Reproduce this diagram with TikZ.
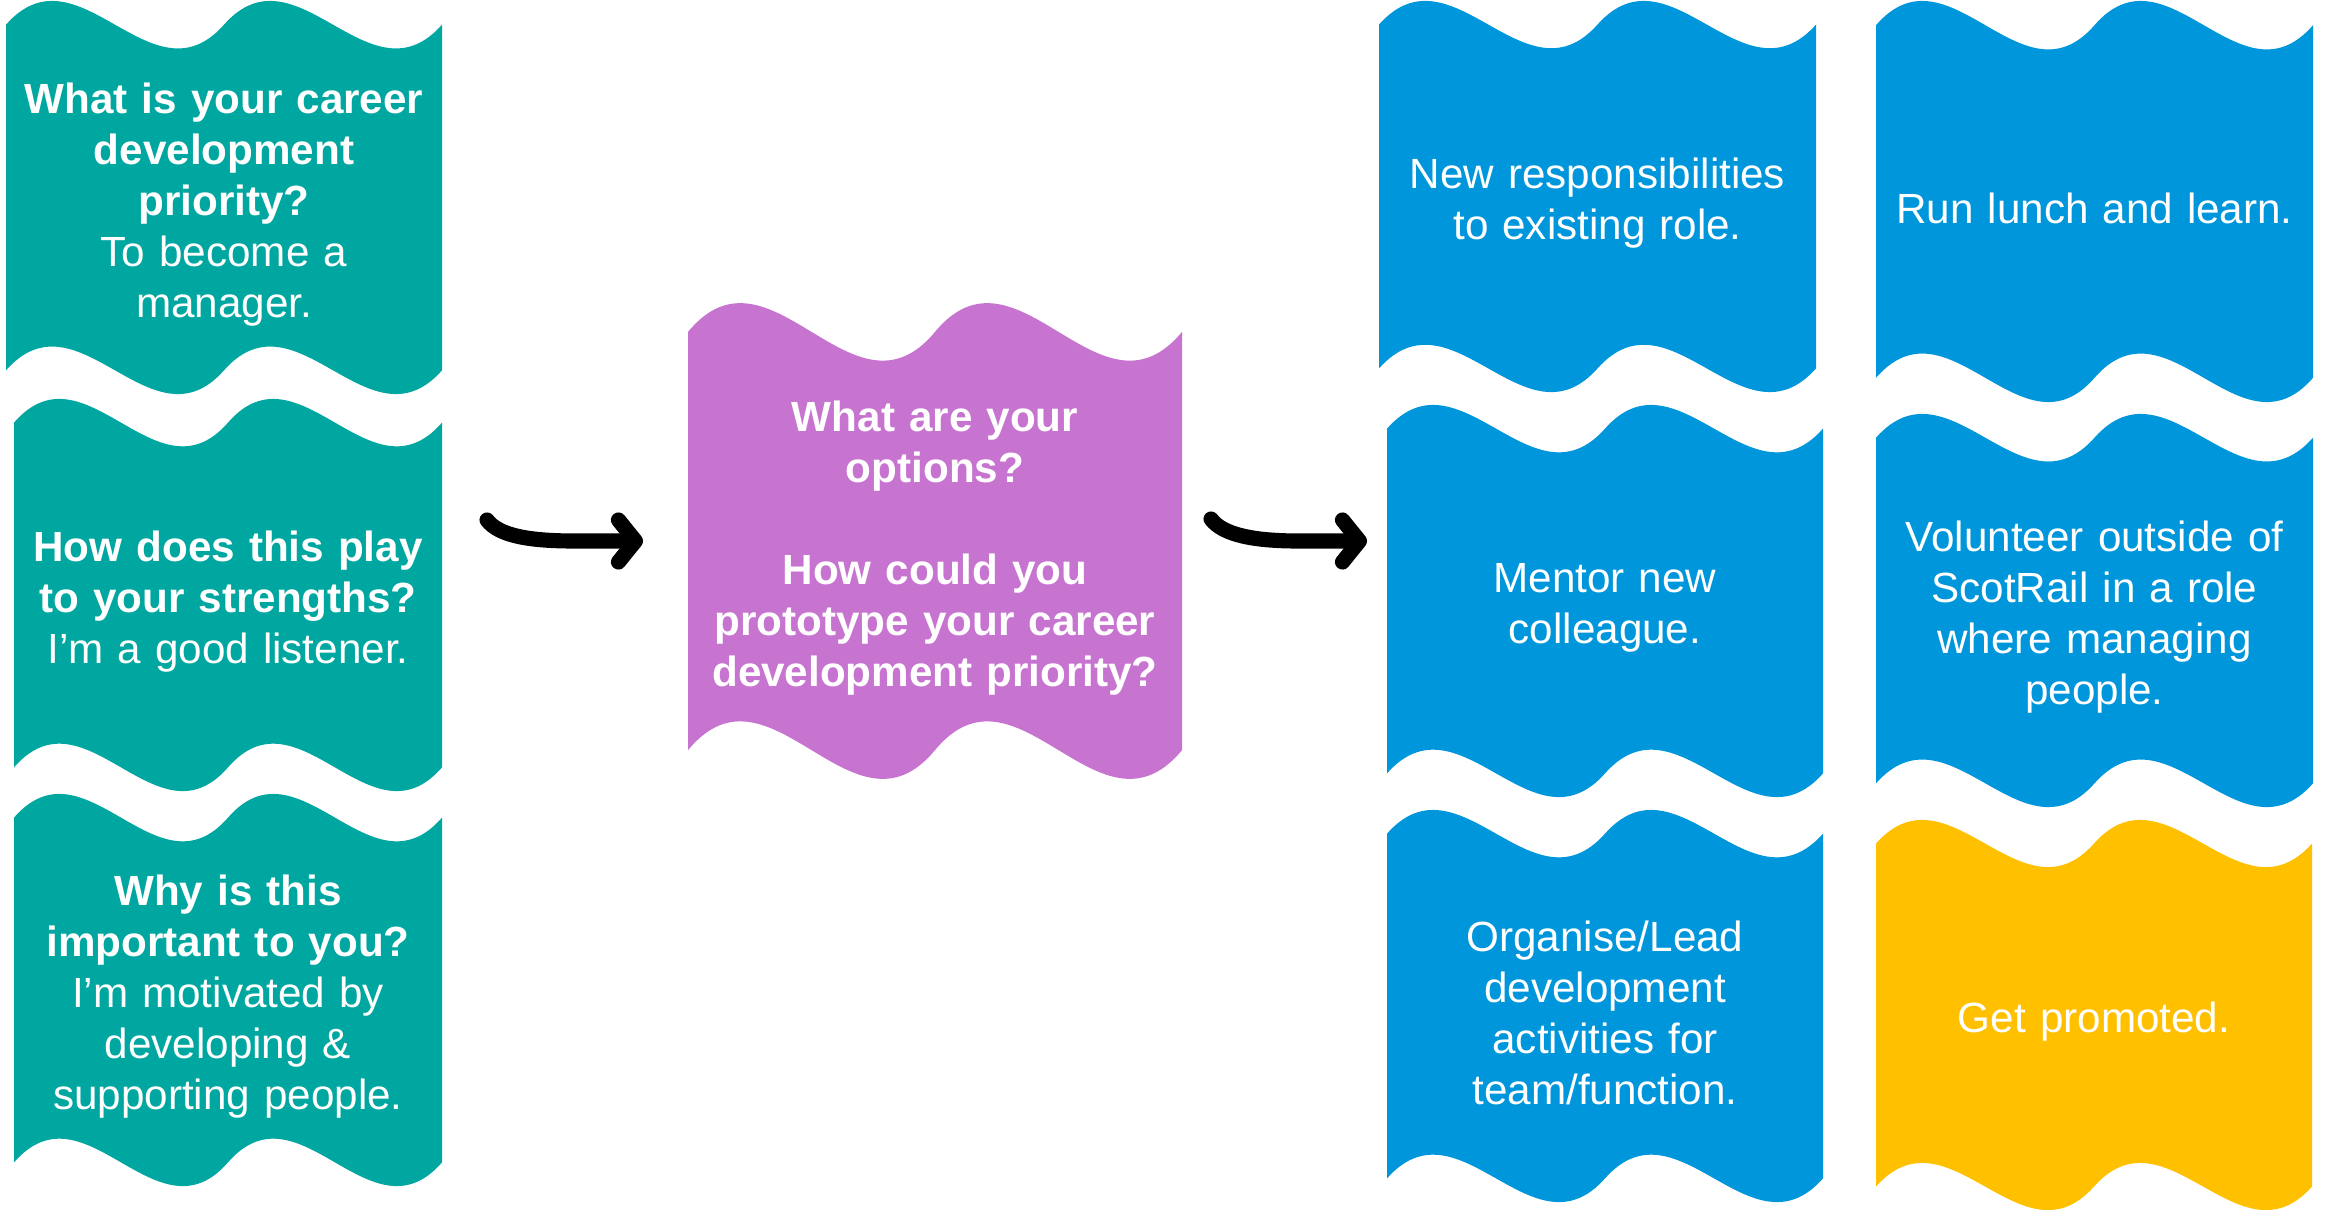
\documentclass[tikz,border=0pt]{standalone}
\usepackage{fontspec}
\setmainfont{Liberation Sans}
\usepackage{tikz}
\usetikzlibrary{arrows.meta}

\definecolor{capteal}{RGB}{0,166,160}
\definecolor{cappurple}{RGB}{199,116,208}
\definecolor{capblue}{RGB}{0,150,219}
\definecolor{capyellow}{RGB}{255,192,0}

% wavy card: name, x0, y0, x1, y1, colour, text
\newcommand{\wavebox}[7]{%
  \pgfmathsetmacro\wvamp{0.0625*(#5-#3)}%
  \pgfmathsetmacro\wvdip{\wvamp*10/3}%
  \pgfmathsetmacro\wvstep{(#4-#2)/6}%
  \pgfmathsetmacro\wvwid{(#4-#2)*0.01}%
  \fill[#6] (#2,#3+\wvamp)
    .. controls +(\wvstep,-\wvdip) and +(-\wvstep,\wvdip) .. ({(#2+#4)/2},#3+\wvamp)
    .. controls +(\wvstep,-\wvdip) and +(-\wvstep,\wvdip) .. (#4,#3+\wvamp)
    -- (#4,#5-\wvamp)
    .. controls +(-\wvstep,\wvdip) and +(\wvstep,-\wvdip) .. ({(#2+#4)/2},#5-\wvamp)
    .. controls +(-\wvstep,\wvdip) and +(\wvstep,-\wvdip) .. (#2,#5-\wvamp) -- cycle;
  \node[boxtext,text width=\wvwid cm] (#1) at ({(#2+#4)/2},{(#3+#5)/2}) {#7};}

\begin{document}
\begin{tikzpicture}[x=0.01cm,y=-0.01cm,
  boxtext/.style={text=white,align=center,inner sep=0pt,yshift=-0.07cm,
    font=\fontsize{12}{14.5}\selectfont},
  flow/.style={line width=4.3pt,line cap=round,
    -{Straight Barb[length=1.7mm,width=4.2mm,round]}}]
  \useasboundingbox (0,0) rectangle (2325,1209);
  % left column
  \wavebox{prio}{6}{0}{442}{395}{capteal}{{\bfseries What is your career\\development\\priority?}\\To become a\\manager.}
  \wavebox{strength}{14}{398}{442}{792}{capteal}{{\bfseries How does this play\\to your strengths?}\\I’m a good listener.}
  \wavebox{why}{14}{793}{442}{1187}{capteal}{{\bfseries Why is this\\important to you?}\\I’m motivated by\\developing \&\\supporting people.}
  % middle
  \wavebox{options}{688}{302}{1182}{780}{cappurple}{{\bfseries What are your\\options?\\[14.5pt]How could you\\prototype your career\\development priority?}}
  % right columns
  \wavebox{resp}{1379}{0}{1816}{393}{capblue}{New responsibilities\\to existing role.}
  \wavebox{mentor}{1387}{404}{1823}{798}{capblue}{Mentor new\\colleague.}
  \wavebox{organise}{1387}{809}{1823}{1203}{capblue}{Organise/Lead\\development\\activities for\\team/function.}
  \wavebox{lunch}{1876}{0}{2313}{403}{capblue}{Run lunch and learn.}
  \wavebox{volunteer}{1876}{413}{2313}{808}{capblue}{Volunteer outside of\\ScotRail in a role\\where managing\\people.}
  \wavebox{promote}{1876}{819}{2312}{1211}{capyellow}{Get promoted.}
  % arrows
  \coordinate (s1) at (487,520);
  \coordinate (m1) at (575,541);
  \coordinate (e1) at (643,541);
  \draw[flow] (s1) .. controls +(12,16) and +(-45,0) .. (m1) -- (e1);
  \coordinate (s2) at (1211,519);
  \coordinate (m2) at (1299,541);
  \coordinate (e2) at (1367,541);
  \draw[flow] (s2) .. controls +(12,16) and +(-45,0) .. (m2) -- (e2);
\end{tikzpicture}
\end{document}
